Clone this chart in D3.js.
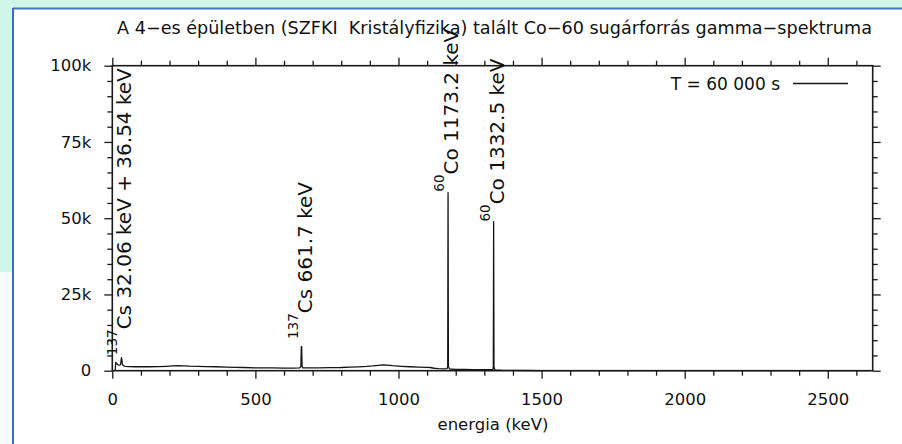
<!DOCTYPE html>
<html><head><meta charset="utf-8">
<script src="https://cdn.jsdelivr.net/npm/d3@7"></script>
<style>
body{margin:0;background:#fff}
svg{display:block}
text{font-family:"DejaVu Sans",Verdana,sans-serif;fill:#111}
</style>
</head><body>
<svg id="chart" width="902" height="444"></svg>
<script>
// ---------------- data ----------------
const titleText = "A 4\u2212es épületben (SZFKI  Kristályfizika) talált Co\u221260 sugárforrás gamma\u2212spektruma";
const xAxisTitle = "energia (keV)";
const legendLabel = "T = 60 000 s";

// spectrum: energy (keV) and counts
const energies = [10, 12, 16, 20, 25, 29, 31, 32, 33, 35, 38, 45, 60, 80, 100, 130, 160, 190, 210, 230, 250, 270, 300, 330, 360, 400, 430, 460, 500, 530, 560, 600, 630, 655, 659, 660.5, 661.7, 663, 665, 690, 720, 760, 800, 830, 860, 890, 910, 930, 945, 960, 980, 1010, 1040, 1070, 1100, 1110, 1125, 1140, 1160, 1170, 1172, 1173.2, 1174.4, 1178, 1200, 1230, 1260, 1290, 1320, 1330, 1331.3, 1332.5, 1333.7, 1337, 1360, 1400, 1450, 1500, 1600, 1700, 1800, 1900, 2000, 2100, 2200, 2300, 2400, 2505, 2600, 2650];
const counts   = [0, 2700, 2300, 1900, 1800, 2000, 3600, 4300, 3900, 2300, 1700, 1450, 1350, 1300, 1300, 1300, 1350, 1450, 1550, 1650, 1600, 1500, 1450, 1350, 1300, 1200, 1100, 1050, 950, 950, 900, 850, 850, 900, 1500, 7900, 7900, 1600, 900, 900, 950, 1000, 1050, 1150, 1250, 1400, 1550, 1750, 1900, 1850, 1650, 1450, 1300, 1200, 1100, 1050, 800, 650, 600, 650, 1500, 58400, 1500, 550, 450, 420, 380, 350, 330, 350, 1500, 48900, 1200, 250, 150, 80, 60, 50, 45, 40, 40, 35, 30, 30, 35, 30, 25, 40, 20, 15];

// peak annotations
const labelEnergies = [32, 661.7, 1173.2, 1332.5];
const labelCounts   = [5100, 10400, 58700, 48900];
const labelIsotopes = ["137", "137", "60", "60"];
const labelElements = ["Cs", "Cs", "Co", "Co"];
const labelTexts    = [" 32.06 keV + 36.54 keV", " 661.7 keV", " 1173.2 keV", " 1332.5 keV"];

// axes
const xDomain = [0, 2657];
const yDomain = [0, 100000];
const xMajorTicks = [0, 500, 1000, 1500, 2000, 2500];
const xTickLabels = ["0", "500", "1000", "1500", "2000", "2500"];
const xMinorTicks = [100, 200, 300, 400, 600, 700, 800, 900, 1100, 1200, 1300, 1400, 1600, 1700, 1800, 1900, 2100, 2200, 2300, 2400, 2600];
const yMajorTicks = [0, 25000, 50000, 75000, 100000];
const yTickLabels = ["0", "25k", "50k", "75k", "100k"];
const yMinorTicks = [5000, 10000, 15000, 20000, 30000, 35000, 40000, 45000, 55000, 60000, 65000, 70000, 80000, 85000, 90000, 95000];

// ---------------- layout ----------------
const svg = d3.select("#chart");
const W = 902, H = 444;
const plot = {left: 112.3, right: 872.7, top: 65.7, bottom: 370.7};
const FONT = '"DejaVu Sans",Verdana,sans-serif';

// page background / frame
svg.append("rect").attr("x", 0).attr("y", 0).attr("width", W).attr("height", H).attr("fill", "#d0f6ea");
svg.append("rect").attr("x", 0).attr("y", 272).attr("width", 13).attr("height", H - 272).attr("fill", "#f6fbfb");
svg.append("rect").attr("x", 14).attr("y", 9).attr("width", W - 14).attr("height", H - 9).attr("fill", "#ffffff");
svg.append("line").attr("x1", 13).attr("x2", W).attr("y1", 8.5).attr("y2", 8.5).attr("stroke", "#4174c4").attr("stroke-width", 2);
svg.append("line").attr("x1", 13).attr("x2", 13).attr("y1", 8).attr("y2", H).attr("stroke", "#3b6cc0").attr("stroke-width", 2);

const x = d3.scaleLinear().domain(xDomain).range([plot.left, plot.right]);
const y = d3.scaleLinear().domain(yDomain).range([plot.bottom, plot.top]);

const axisColor = "#1a1a1a";
function styleAxis(g) {
  g.select(".domain").remove();
  g.selectAll("line").attr("stroke", axisColor).attr("stroke-width", 1.3);
  g.selectAll("text").attr("font-size", 16.5).attr("fill", "#111").attr("font-family", FONT);
}

// bottom
const gB = svg.append("g").attr("transform", `translate(0,${plot.bottom})`);
gB.append("g").call(d3.axisBottom(x).tickValues(xMinorTicks).tickSize(5).tickFormat("")).call(styleAxis);
gB.append("g").call(d3.axisBottom(x).tickValues(xMajorTicks).tickSize(8).tickPadding(15)
  .tickFormat((d, i) => xTickLabels[i])).call(styleAxis);
// top
const gT = svg.append("g").attr("transform", `translate(0,${plot.top})`);
gT.append("g").call(d3.axisTop(x).tickValues(xMinorTicks).tickSize(5).tickFormat("")).call(styleAxis);
gT.append("g").call(d3.axisTop(x).tickValues(xMajorTicks).tickSize(8).tickFormat("")).call(styleAxis);
// left
const gL = svg.append("g").attr("transform", `translate(${plot.left},0)`);
gL.append("g").call(d3.axisLeft(y).tickValues(yMinorTicks).tickSize(5).tickFormat("")).call(styleAxis);
gL.append("g").call(d3.axisLeft(y).tickValues(yMajorTicks).tickSize(8).tickPadding(13)
  .tickFormat((d, i) => yTickLabels[i])).call(styleAxis);
// right
const gR = svg.append("g").attr("transform", `translate(${plot.right},0)`);
gR.append("g").call(d3.axisRight(y).tickValues(yMinorTicks).tickSize(5).tickFormat("")).call(styleAxis);
gR.append("g").call(d3.axisRight(y).tickValues(yMajorTicks).tickSize(8).tickFormat("")).call(styleAxis);

// border box
svg.append("rect").attr("x", plot.left).attr("y", plot.top)
  .attr("width", plot.right - plot.left).attr("height", plot.bottom - plot.top)
  .attr("fill", "none").attr("stroke", axisColor).attr("stroke-width", 1.6);

// spectrum
const pts = energies.map((e, i) => [e, counts[i]]);
svg.append("path").datum(pts)
  .attr("d", d3.line().x(d => x(d[0])).y(d => y(d[1])))
  .attr("fill", "none").attr("stroke", "#151515").attr("stroke-width", 1.3).attr("stroke-linejoin", "round");

// peak labels (rotated)
labelEnergies.forEach((e, i) => {
  const t = svg.append("text")
    .attr("transform", `translate(${x(e)},${y(labelCounts[i])}) rotate(-90)`)
    .attr("font-size", 20).attr("font-family", FONT);
  t.append("tspan").attr("x", 0).attr("y", -4).attr("font-size", 13.5).text(labelIsotopes[i]);
  t.append("tspan").attr("y", 10).style("white-space", "pre")
    .text(labelElements[i] + labelTexts[i]);
});

// title
svg.append("text").attr("x", 494.5).attr("y", 34.3).attr("text-anchor", "middle")
  .attr("font-size", 17.6).style("white-space", "pre").text(titleText);

// x axis title
svg.append("text").attr("x", 493).attr("y", 430).attr("text-anchor", "middle")
  .attr("font-size", 16.5).text(xAxisTitle);

// legend
svg.append("text").attr("x", 780).attr("y", 90).attr("text-anchor", "end")
  .attr("font-size", 17).text(legendLabel);
svg.append("line").attr("x1", 793).attr("x2", 848).attr("y1", 83.5).attr("y2", 83.5)
  .attr("stroke", "#151515").attr("stroke-width", 1.3);
</script>
</body></html>
